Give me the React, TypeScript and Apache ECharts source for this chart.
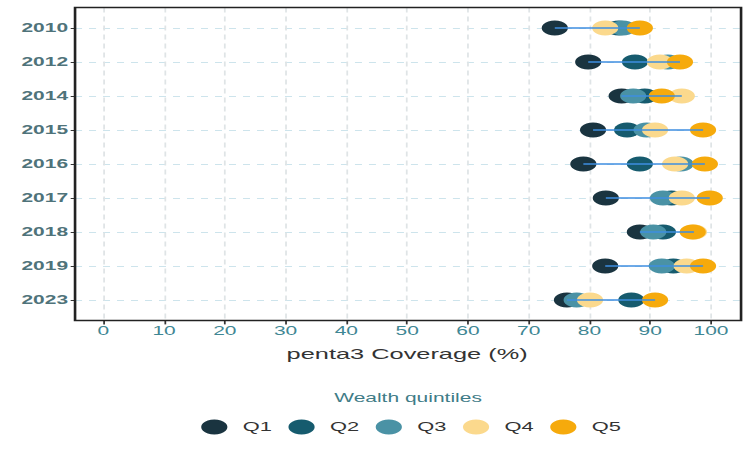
import React, { useEffect, useRef } from "react";
import * as echarts from "echarts";

const years = ["2010", "2012", "2014", "2015", "2016", "2017", "2018", "2019", "2023"];
const q1 = [74.3, 79.8, 85.3, 80.6, 79.0, 82.7, 88.3, 82.6, 76.3];
const q2 = [84.8, 87.5, 89.1, 86.2, 88.3, 93.5, 92.1, 93.8, 86.9];
const q3 = [85.5, 92.9, 87.2, 89.4, 95.0, 92.1, 90.5, 91.9, 77.9];
const q4 = [82.6, 91.6, 95.2, 90.8, 94.1, 95.2, 97.2, 96.0, 80.1];
const q5 = [88.3, 94.9, 91.9, 98.7, 99.0, 99.8, 97.0, 98.7, 90.8];
const quintiles = ["Q1", "Q2", "Q3", "Q4", "Q5"];
const xTicks = [0, 100, 10];

const colors = ["#1a3440", "#165b6e", "#4a92a5", "#fbd98d", "#f6aa0c"];
const FONT = "Liberation Sans";

const INNER_W = 427;
const H = 451;
const SX = 747 / INNER_W;
const FRAME = { left: 42.9, right: 423.6, top: 7.6, bottom: 320.4 };

export default function App() {
  const ref = useRef<HTMLDivElement>(null);
  useEffect(() => {
    if (!ref.current) return;
    const chart = echarts.init(ref.current, null, { renderer: "svg" });
    const all = [q1, q2, q3, q4, q5];
    const lineData = years.map((_, i) => {
      const vals = all.map((a) => a[i]);
      return { coords: [[Math.min(...vals), i], [Math.max(...vals), i]] };
    });
    chart.setOption({
      animation: false,
      backgroundColor: "#ffffff",
      grid: [
        { left: 59.05, right: INNER_W - 406.4, top: FRAME.top, bottom: H - FRAME.bottom },
        { left: FRAME.left, right: INNER_W - FRAME.right, top: 28, bottom: H - 300 },
      ],
      xAxis: [
        {
          gridIndex: 0,
          type: "value",
          min: xTicks[0],
          max: xTicks[1],
          interval: xTicks[2],
          axisLine: { show: false, onZero: false },
          axisTick: { show: true, length: 4, lineStyle: { color: "#333", width: 1 } },
          axisLabel: { color: "#3f8794", fontSize: 12, margin: 5, fontFamily: FONT },
          splitLine: { show: true, lineStyle: { type: [5, 4], color: "#dfe4e6", width: 1 } },
          name: "penta3 Coverage (%)",
          nameLocation: "middle",
          nameGap: 26,
          nameTextStyle: { color: "#333", fontSize: 14.5, fontFamily: FONT },
        },
        { gridIndex: 1, type: "value", min: 0, max: 1, show: false },
      ],
      yAxis: [
        { gridIndex: 0, type: "value", min: -0.6, max: 8.6, inverse: true, show: false },
        {
          gridIndex: 1,
          type: "category",
          data: years,
          inverse: true,
          boundaryGap: false,
          axisLine: { show: false },
          axisTick: { show: true, length: 2.5, interval: 0, lineStyle: { color: "#333", width: 1 } },
          axisLabel: { color: "#4f737a", fontSize: 12, fontWeight: "bold", margin: 4, interval: 0, fontFamily: FONT },
          splitLine: { show: true, interval: 0, lineStyle: { type: [4, 4], color: "#cde4ec", width: 1 } },
        },
      ],
      legend: {
        data: quintiles,
        left: 110,
        top: 414.5,
        icon: "circle",
        itemWidth: 22.4,
        itemHeight: 15,
        itemGap: 9.5,
        textStyle: { color: "#333", fontSize: 12.5, fontFamily: FONT },
      },
      graphic: [
        {
          type: "rect",
          shape: {
            x: FRAME.left,
            y: FRAME.top,
            width: FRAME.right - FRAME.left,
            height: FRAME.bottom - FRAME.top,
          },
          style: { fill: "none", stroke: "#222", lineWidth: 1.5 },
          z: 100,
        },
        {
          type: "text",
          x: (FRAME.left + FRAME.right) / 2,
          y: 398,
          style: {
            text: "Wealth quintiles",
            fill: "#3f7c87",
            fontSize: 12,
            fontFamily: FONT,
            align: "center",
            verticalAlign: "middle",
          },
        },
      ],
      series: [
        ...all.map((vals, k) => ({
          name: quintiles[k],
          type: "scatter",
          xAxisIndex: 0,
          yAxisIndex: 0,
          symbol: "circle",
          symbolSize: 15,
          itemStyle: { color: colors[k], opacity: 1 },
          data: vals.map((v, i) => [v, i]),
          z: 2,
        })),
        {
          type: "lines",
          coordinateSystem: "cartesian2d",
          xAxisIndex: 0,
          yAxisIndex: 0,
          data: lineData,
          lineStyle: { color: "#3d8ee0", width: 1.8, opacity: 0.75 },
          z: 5,
        },
      ],
    });
    return () => chart.dispose();
  }, []);
  return (
    <div
      ref={ref}
      style={{
        position: "absolute",
        left: 0,
        top: 0,
        width: INNER_W,
        height: H,
        transform: `scaleX(${SX})`,
        transformOrigin: "0 0",
      }}
    />
  );
}
